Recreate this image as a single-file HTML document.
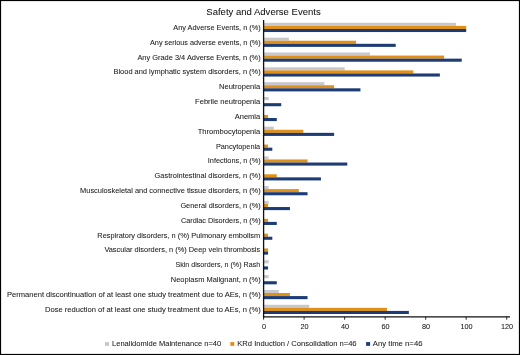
<!DOCTYPE html>
<html><head><meta charset="utf-8"><title>Safety and Adverse Events</title>
<style>html,body{margin:0;padding:0;background:#fff;}body{width:520px;height:355px;overflow:hidden;}svg{display:block;}text{stroke:#1a1a1a;stroke-width:0.06px;}svg{will-change:transform;opacity:0.999;font-family:"Liberation Sans",sans-serif;}</style></head><body>
<svg width="520" height="355" viewBox="0 0 520 355">
<rect x="0" y="0" width="520" height="355" fill="#fff"/>
<rect x="263.60" y="22.80" width="192.47" height="3.08" fill="#c7c7ce"/>
<rect x="263.60" y="25.88" width="202.60" height="3.08" fill="#e29015"/>
<rect x="263.60" y="28.96" width="202.60" height="3.08" fill="#1d3b75"/>
<rect x="263.60" y="37.64" width="25.32" height="3.08" fill="#c7c7ce"/>
<rect x="263.60" y="40.72" width="92.49" height="3.08" fill="#e29015"/>
<rect x="263.60" y="43.80" width="132.10" height="3.08" fill="#1d3b75"/>
<rect x="263.60" y="52.48" width="106.36" height="3.08" fill="#c7c7ce"/>
<rect x="263.60" y="55.56" width="180.52" height="3.08" fill="#e29015"/>
<rect x="263.60" y="58.64" width="198.14" height="3.08" fill="#1d3b75"/>
<rect x="263.60" y="67.32" width="81.04" height="3.08" fill="#c7c7ce"/>
<rect x="263.60" y="70.40" width="149.72" height="3.08" fill="#e29015"/>
<rect x="263.60" y="73.48" width="176.26" height="3.08" fill="#1d3b75"/>
<rect x="263.60" y="82.16" width="60.78" height="3.08" fill="#c7c7ce"/>
<rect x="263.60" y="85.24" width="70.50" height="3.08" fill="#e29015"/>
<rect x="263.60" y="88.32" width="96.84" height="3.08" fill="#1d3b75"/>
<rect x="263.60" y="97.00" width="5.06" height="3.08" fill="#c7c7ce"/>
<rect x="263.60" y="103.16" width="17.63" height="3.08" fill="#1d3b75"/>
<rect x="263.60" y="114.92" width="4.46" height="3.08" fill="#e29015"/>
<rect x="263.60" y="118.00" width="13.17" height="3.08" fill="#1d3b75"/>
<rect x="263.60" y="126.68" width="10.13" height="3.08" fill="#c7c7ce"/>
<rect x="263.60" y="129.76" width="39.71" height="3.08" fill="#e29015"/>
<rect x="263.60" y="132.84" width="70.50" height="3.08" fill="#1d3b75"/>
<rect x="263.60" y="144.60" width="4.46" height="3.08" fill="#e29015"/>
<rect x="263.60" y="147.68" width="8.71" height="3.08" fill="#1d3b75"/>
<rect x="263.60" y="156.36" width="5.06" height="3.08" fill="#c7c7ce"/>
<rect x="263.60" y="159.44" width="43.96" height="3.08" fill="#e29015"/>
<rect x="263.60" y="162.52" width="83.67" height="3.08" fill="#1d3b75"/>
<rect x="263.60" y="174.28" width="13.17" height="3.08" fill="#e29015"/>
<rect x="263.60" y="177.36" width="57.34" height="3.08" fill="#1d3b75"/>
<rect x="263.60" y="186.04" width="5.06" height="3.08" fill="#c7c7ce"/>
<rect x="263.60" y="189.12" width="35.25" height="3.08" fill="#e29015"/>
<rect x="263.60" y="192.20" width="43.96" height="3.08" fill="#1d3b75"/>
<rect x="263.60" y="200.88" width="5.06" height="3.08" fill="#c7c7ce"/>
<rect x="263.60" y="203.96" width="4.46" height="3.08" fill="#e29015"/>
<rect x="263.60" y="207.04" width="26.34" height="3.08" fill="#1d3b75"/>
<rect x="263.60" y="218.80" width="4.46" height="3.08" fill="#e29015"/>
<rect x="263.60" y="221.88" width="13.17" height="3.08" fill="#1d3b75"/>
<rect x="263.60" y="233.64" width="4.46" height="3.08" fill="#e29015"/>
<rect x="263.60" y="236.72" width="8.71" height="3.08" fill="#1d3b75"/>
<rect x="263.60" y="248.48" width="4.46" height="3.08" fill="#e29015"/>
<rect x="263.60" y="251.56" width="4.46" height="3.08" fill="#1d3b75"/>
<rect x="263.60" y="260.24" width="5.06" height="3.08" fill="#c7c7ce"/>
<rect x="263.60" y="266.40" width="4.46" height="3.08" fill="#1d3b75"/>
<rect x="263.60" y="275.08" width="5.06" height="3.08" fill="#c7c7ce"/>
<rect x="263.60" y="281.24" width="13.17" height="3.08" fill="#1d3b75"/>
<rect x="263.60" y="289.92" width="15.19" height="3.08" fill="#c7c7ce"/>
<rect x="263.60" y="293.00" width="26.34" height="3.08" fill="#e29015"/>
<rect x="263.60" y="296.08" width="43.96" height="3.08" fill="#1d3b75"/>
<rect x="263.60" y="304.76" width="45.58" height="3.08" fill="#c7c7ce"/>
<rect x="263.60" y="307.84" width="123.38" height="3.08" fill="#e29015"/>
<rect x="263.60" y="310.92" width="145.26" height="3.08" fill="#1d3b75"/>
<text x="173.3" y="29.87" font-size="7.4" fill="#1a1a1a" textLength="87.4" lengthAdjust="spacingAndGlyphs">Any Adverse Events, n (%)</text>
<text x="150.0" y="44.71" font-size="7.4" fill="#1a1a1a" textLength="110.7" lengthAdjust="spacingAndGlyphs">Any serious adverse events, n (%)</text>
<text x="137.4" y="59.55" font-size="7.4" fill="#1a1a1a" textLength="123.3" lengthAdjust="spacingAndGlyphs">Any Grade 3/4 Adverse Events, n (%)</text>
<text x="113.5" y="74.39" font-size="7.4" fill="#1a1a1a" textLength="147.2" lengthAdjust="spacingAndGlyphs">Blood and lymphatic system disorders, n (%)</text>
<text x="219.0" y="89.23" font-size="7.4" fill="#1a1a1a" textLength="41.2" lengthAdjust="spacingAndGlyphs">Neutropenia</text>
<text x="195.1" y="104.07" font-size="7.4" fill="#1a1a1a" textLength="65.1" lengthAdjust="spacingAndGlyphs">Febrile neutropenia</text>
<text x="234.7" y="118.91" font-size="7.4" fill="#1a1a1a" textLength="25.5" lengthAdjust="spacingAndGlyphs">Anemia</text>
<text x="197.7" y="133.75" font-size="7.4" fill="#1a1a1a" textLength="62.5" lengthAdjust="spacingAndGlyphs">Thrombocytopenia</text>
<text x="215.9" y="148.59" font-size="7.4" fill="#1a1a1a" textLength="44.3" lengthAdjust="spacingAndGlyphs">Pancytopenia</text>
<text x="207.8" y="163.43" font-size="7.4" fill="#1a1a1a" textLength="52.9" lengthAdjust="spacingAndGlyphs">Infections, n (%)</text>
<text x="154.6" y="178.27" font-size="7.4" fill="#1a1a1a" textLength="106.1" lengthAdjust="spacingAndGlyphs">Gastrointestinal disorders, n (%)</text>
<text x="80.1" y="193.11" font-size="7.4" fill="#1a1a1a" textLength="180.6" lengthAdjust="spacingAndGlyphs">Musculoskeletal and connective tissue disorders, n (%)</text>
<text x="180.4" y="207.95" font-size="7.4" fill="#1a1a1a" textLength="80.3" lengthAdjust="spacingAndGlyphs">General disorders, n (%)</text>
<text x="180.9" y="222.79" font-size="7.4" fill="#1a1a1a" textLength="79.8" lengthAdjust="spacingAndGlyphs">Cardiac Disorders, n (%)</text>
<text x="97.3" y="237.63" font-size="7.4" fill="#1a1a1a" textLength="162.9" lengthAdjust="spacingAndGlyphs">Respiratory disorders, n (%) Pulmonary embolism</text>
<text x="104.4" y="252.47" font-size="7.4" fill="#1a1a1a" textLength="155.8" lengthAdjust="spacingAndGlyphs">Vascular disorders, n (%) Deep vein thrombosis</text>
<text x="175.4" y="267.31" font-size="7.4" fill="#1a1a1a" textLength="84.8" lengthAdjust="spacingAndGlyphs">Skin disorders, n (%) Rash</text>
<text x="170.8" y="282.15" font-size="7.4" fill="#1a1a1a" textLength="89.9" lengthAdjust="spacingAndGlyphs">Neoplasm Malignant, n (%)</text>
<text x="7.1" y="296.99" font-size="7.4" fill="#1a1a1a" textLength="253.6" lengthAdjust="spacingAndGlyphs">Permanent discontinuation of at least one study treatment due to AEs, n (%)</text>
<text x="45.1" y="311.83" font-size="7.4" fill="#1a1a1a" textLength="215.6" lengthAdjust="spacingAndGlyphs">Dose reduction of at least one study treatment due to AEs, n (%)</text>
<line x1="263.60" y1="20.00" x2="263.60" y2="317.40" stroke="#111" stroke-width="1.3"/>
<line x1="262.95" y1="316.80" x2="510" y2="316.80" stroke="#111" stroke-width="1.3"/>
<line x1="263.60" y1="316.80" x2="263.60" y2="319.70" stroke="#111" stroke-width="0.9"/>
<text x="261.93" y="329.1" font-size="7.8" fill="#1a1a1a" textLength="4.05" lengthAdjust="spacingAndGlyphs">0</text>
<line x1="304.12" y1="316.80" x2="304.12" y2="319.70" stroke="#111" stroke-width="0.9"/>
<text x="300.42" y="329.1" font-size="7.8" fill="#1a1a1a" textLength="8.10" lengthAdjust="spacingAndGlyphs">20</text>
<line x1="344.64" y1="316.80" x2="344.64" y2="319.70" stroke="#111" stroke-width="0.9"/>
<text x="340.94" y="329.1" font-size="7.8" fill="#1a1a1a" textLength="8.10" lengthAdjust="spacingAndGlyphs">40</text>
<line x1="385.16" y1="316.80" x2="385.16" y2="319.70" stroke="#111" stroke-width="0.9"/>
<text x="381.46" y="329.1" font-size="7.8" fill="#1a1a1a" textLength="8.10" lengthAdjust="spacingAndGlyphs">60</text>
<line x1="425.68" y1="316.80" x2="425.68" y2="319.70" stroke="#111" stroke-width="0.9"/>
<text x="421.98" y="329.1" font-size="7.8" fill="#1a1a1a" textLength="8.10" lengthAdjust="spacingAndGlyphs">80</text>
<line x1="466.20" y1="316.80" x2="466.20" y2="319.70" stroke="#111" stroke-width="0.9"/>
<text x="460.48" y="329.1" font-size="7.8" fill="#1a1a1a" textLength="12.15" lengthAdjust="spacingAndGlyphs">100</text>
<line x1="506.72" y1="316.80" x2="506.72" y2="319.70" stroke="#111" stroke-width="0.9"/>
<text x="501.00" y="329.1" font-size="7.8" fill="#1a1a1a" textLength="12.15" lengthAdjust="spacingAndGlyphs">120</text>
<text x="206.3" y="14.55" font-size="9.9" fill="#111" textLength="114.4" lengthAdjust="spacingAndGlyphs">Safety and Adverse Events</text>
<rect x="105.0" y="342.05" width="4.0" height="3.8" fill="#c7c7ce"/>
<text x="112.0" y="346.4" font-size="7.7" fill="#1a1a1a" textLength="109.2" lengthAdjust="spacingAndGlyphs">Lenalidomide Maintenance n=40</text>
<rect x="230.3" y="342.05" width="4.0" height="3.8" fill="#e29015"/>
<text x="237.3" y="346.4" font-size="7.7" fill="#1a1a1a" textLength="119.3" lengthAdjust="spacingAndGlyphs">KRd Induction / Consolidation n=46</text>
<rect x="366.1" y="342.05" width="4.0" height="3.8" fill="#1d3b75"/>
<text x="372.8" y="346.4" font-size="7.7" fill="#1a1a1a" textLength="49.7" lengthAdjust="spacingAndGlyphs">Any time n=46</text>
<rect x="0.5" y="0.5" width="519" height="354" fill="none" stroke="#000" stroke-width="1.2"/>
</svg></body></html>
